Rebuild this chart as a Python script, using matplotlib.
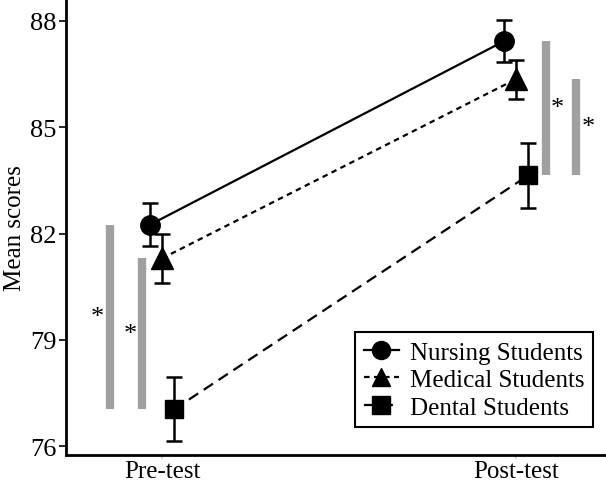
import matplotlib.pyplot as plt
import numpy as np

plt.rcParams['font.family'] = ['Liberation Serif', 'DejaVu Serif']

groups = ["Nursing Students", "Medical Students", "Dental Students"]
phases = ["Pre-test", "Post-test"]
pre_means = [82.25, 81.3, 77.04]
post_means = [87.43, 86.36, 83.64]
pre_err = [0.6, 0.68, 0.9]
post_err = [0.6, 0.55, 0.92]

# significant pairs (index into groups) for each phase
sig_pairs = [(0, 2), (1, 2)]

markers = ['o', '^', 's']
msizes = [14, 16, 13]
styles = ['-', (0, (2.5, 2.0)), (0, (5, 3))]
offsets = [-0.034, 0.0, 0.034]

fig = plt.figure(figsize=(6.06, 4.89), dpi=100)
ax = fig.add_axes([0.109, 0.068, 0.891, 0.932])

x = np.arange(len(phases))
for k in range(len(groups)):
    means = [pre_means[k], post_means[k]]
    errs = [pre_err[k], post_err[k]]
    xs = x + offsets[k]
    ax.plot(xs, means, linestyle=styles[k], color='black', lw=1.6,
            marker=markers[k], ms=msizes[k], mfc='black', mec='black',
            label=groups[k], zorder=3)
    ax.errorbar(xs, means, yerr=errs, fmt='none', ecolor='black',
                elinewidth=1.8, capsize=6, capthick=1.8, zorder=2)

# significance bars
bar_x = [[-0.147, -0.056], [1.085, 1.169]]
star_x = [[-0.184, -0.090], [1.116, 1.203]]
for p, means in enumerate([pre_means, post_means]):
    for j, (a, b) in enumerate(sig_pairs):
        ax.plot([bar_x[p][j]] * 2, [means[a], means[b]], color='#a0a0a0',
                lw=6, solid_capstyle='butt', zorder=1)
        ax.text(star_x[p][j], (means[a] + means[b]) / 2, '*', fontsize=19,
                ha='center', va='center')

ax.set_xlim(-0.271, 1.254)
ax.set_ylim(75.76, 88.62)
ax.set_xticks(x)
ax.set_xticklabels(phases)
ax.set_yticks([76, 79, 82, 85, 88])
ax.tick_params(labelsize=19, width=1.2, length=5, colors='black')
ax.tick_params(axis='x', colors='#cccccc', labelcolor='black', pad=1,
               length=3, labelsize=18)
ax.tick_params(axis='y', pad=2)
ax.set_ylabel("Mean scores", fontsize=18, labelpad=3)
for s in ['top', 'right']:
    ax.spines[s].set_visible(False)
for s in ['left', 'bottom']:
    ax.spines[s].set_linewidth(2)

leg = ax.legend(loc='lower right', bbox_to_anchor=(0.976, 0.06), fontsize=18,
                frameon=True, fancybox=False, edgecolor='black', framealpha=1,
                handlelength=1.4, borderpad=0.35, labelspacing=0.2,
                handletextpad=0.45, borderaxespad=0)
leg.get_frame().set_linewidth(1.5)
for h in leg.legend_handles:
    h.set_markersize(13)

fig.savefig("out.png", dpi=100)
